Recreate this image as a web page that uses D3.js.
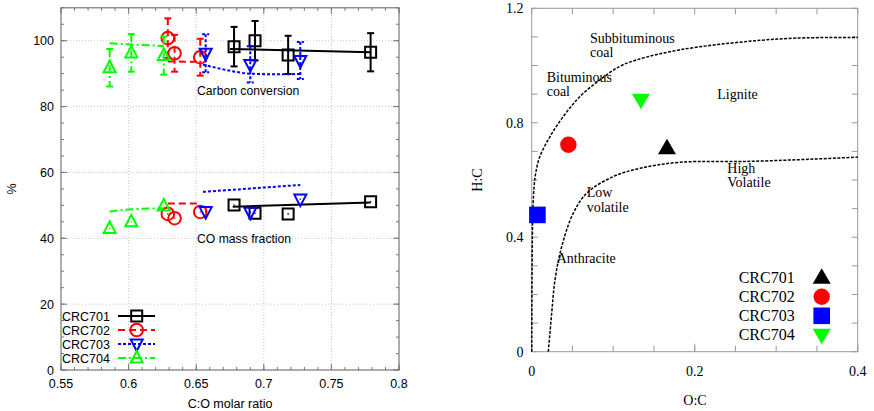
<!DOCTYPE html>
<html><head><meta charset="utf-8">
<script src="https://cdn.jsdelivr.net/npm/d3@7"></script>
<style>body{margin:0;background:#fff}svg{display:block}</style>
</head><body>
<svg id="c" width="874" height="411"></svg>
<script>
// ---------- Left chart data ----------
const seriesNames = ["CRC701","CRC702","CRC703","CRC704"];
const ratio701 = [0.678, 0.6935, 0.718, 0.779];
const cc701 = [98.2, 100.0, 95.7, 96.5];
const ccErr701 = [6.0, 6.0, 5.8, 5.8];
const co701 = [50.1, 47.6, 47.4, 51.1];
const ccFitX701 = [0.675, 0.779], ccFitY701 = [97.5, 96.5];
const coFitX701 = [0.677, 0.779], coFitY701 = [49.6, 50.9];

const ratio702 = [0.629, 0.634, 0.653];
const cc702 = [100.8, 96.2, 95.0];
const ccErr702 = [6.0, 5.6, 5.6];
const co702 = [47.4, 46.1, 48.0];
const ccFitX702 = [0.629, 0.653], ccFitY702 = [93.7, 93.6];
const coFitX702 = [0.629, 0.653], coFitY702 = [50.6, 50.6];

const ratio703 = [0.657, 0.690, 0.727];
const cc703 = [96.2, 92.8, 94.0];
const ccErr703 = [5.8, 5.5, 5.6];
const co703 = [48.1, 47.9, 51.9];
const ccFitX703 = [0.655, 0.67, 0.69, 0.71, 0.727], ccFitY703 = [92.8, 91.3, 90.0, 89.8, 89.9];
const coFitX703 = [0.655, 0.727], coFitY703 = [54.1, 56.2];

const ratio704 = [0.586, 0.602, 0.626];
const cc704 = [91.8, 96.3, 95.5];
const ccErr704 = [5.7, 5.7, 5.8];
const co704 = [43.0, 45.0, 49.8];
const ccFitX704 = [0.586, 0.626], ccFitY704 = [99.2, 98.4];
const coFitX704 = [0.586, 0.602, 0.626], coFitY704 = [48.1, 48.8, 49.1];

const xTicksL = [0.55, 0.6, 0.65, 0.7, 0.75, 0.8];
const yTicksL = [0, 20, 40, 60, 80, 100];

// ---------- Right chart data ----------
const ocRatio = [0.166, 0.045, 0.007, 0.134];
const hcRatio = [0.711, 0.723, 0.478, 0.880];
const boundUpperOC = [0, 0.0005, 0.0015, 0.003, 0.005, 0.010, 0.0225, 0.0388, 0.0593, 0.0838, 0.108, 0.129, 0.182, 0.264, 0.325, 0.4];
const boundUpperHC = [0, 0.3, 0.5, 0.58, 0.625, 0.682, 0.752, 0.822, 0.892, 0.95, 0.997, 1.02, 1.055, 1.084, 1.096, 1.098];
const boundLowerOC = [0.0204, 0.0245, 0.0286, 0.0368, 0.051, 0.0675, 0.1, 0.133, 0.182, 0.264, 0.345, 0.4];
const boundLowerHC = [0, 0.134, 0.251, 0.367, 0.484, 0.554, 0.612, 0.641, 0.662, 0.665, 0.673, 0.68];
const xTicksR = [0, 0.2, 0.4];
const yTicksR = [0, 0.4, 0.8, 1.2];

// ---------- styles ----------
const colors = ["#000000", "#ff0000", "#0000ff", "#00ff00"];
const dashes = [null, "7,4", "3,2", "8,3,2,3"];
const sans = "'Liberation Sans', Arial, sans-serif";
const serif = "'Liberation Serif', 'Times New Roman', serif";

const svg = d3.select("#c");

// ================= LEFT =================
const xL = d3.scaleLinear().domain([0.55, 0.8]).range([61, 399]);
const yL = d3.scaleLinear().domain([0, 110]).range([370, 7.8]);
const gL = svg.append("g");

// grid
gL.selectAll(".gx").data(xTicksL.slice(1, -1)).join("line")
  .attr("x1", d => xL(d)).attr("x2", d => xL(d)).attr("y1", yL(0)).attr("y2", yL(110))
  .attr("stroke", "#c8c8c8").attr("stroke-dasharray", "1,2").attr("stroke-width", 1);
gL.selectAll(".gy").data(yTicksL.slice(1)).join("line")
  .attr("y1", d => yL(d)).attr("y2", d => yL(d)).attr("x1", xL(0.55)).attr("x2", xL(0.8))
  .attr("stroke", "#c8c8c8").attr("stroke-dasharray", "1,2").attr("stroke-width", 1);

// frame
gL.append("rect").attr("x", xL(0.55)).attr("y", yL(110)).attr("width", xL(0.8) - xL(0.55))
  .attr("height", yL(0) - yL(110)).attr("fill", "none").attr("stroke", "#777").attr("stroke-width", 1.2);

// ticks inward
const xMinorL = d3.range(0.55, 0.8001, 0.01);
const yMinorL = d3.range(0, 110.01, 5);
function tickSet(g, scale, vals, len, orient, pos, color) {
  vals.forEach(v => {
    const p = scale(v);
    if (orient === "x") {
      g.append("line").attr("x1", p).attr("x2", p).attr("y1", pos).attr("y2", pos + len)
        .attr("stroke", color).attr("stroke-width", 1);
    } else {
      g.append("line").attr("y1", p).attr("y2", p).attr("x1", pos).attr("x2", pos + len)
        .attr("stroke", color).attr("stroke-width", 1);
    }
  });
}
tickSet(gL, xL, xMinorL, -3, "x", yL(0), "#777");
tickSet(gL, xL, xMinorL, 3, "x", yL(110), "#777");
tickSet(gL, xL, xTicksL, -6, "x", yL(0), "#777");
tickSet(gL, xL, xTicksL, 6, "x", yL(110), "#777");
tickSet(gL, yL, yMinorL, 3, "y", xL(0.55), "#777");
tickSet(gL, yL, yMinorL, -3, "y", xL(0.8), "#777");
tickSet(gL, yL, yTicksL, 6, "y", xL(0.55), "#777");
tickSet(gL, yL, yTicksL, -6, "y", xL(0.8), "#777");

// tick labels
gL.selectAll(".xl").data(xTicksL).join("text")
  .attr("x", d => xL(d)).attr("y", 388).attr("text-anchor", "middle")
  .attr("font-family", sans).attr("font-size", 12.5).text(d => d);
gL.selectAll(".yl").data(yTicksL).join("text")
  .attr("x", 54).attr("y", d => yL(d) + 4.5).attr("text-anchor", "end")
  .attr("font-family", sans).attr("font-size", 12.5).text(d => d);
gL.append("text").attr("x", 230).attr("y", 408).attr("text-anchor", "middle")
  .attr("font-family", sans).attr("font-size", 12.5).text("C:O molar ratio");
gL.append("text").attr("transform", "translate(16,189) rotate(-90)").attr("text-anchor", "middle")
  .attr("font-family", sans).attr("font-size", 12.5).text("%");

gL.append("text").attr("x", 197).attr("y", 94.5).attr("font-family", sans).attr("font-size", 12.2).text("Carbon conversion");
gL.append("text").attr("x", 197).attr("y", 242.5).attr("font-family", sans).attr("font-size", 12.2).text("CO mass fraction");

// marker drawing
function markerPath(kind) {
  if (kind === 0) return "M-5.5,-5.5H5.5V5.5H-5.5Z";
  if (kind === 1) return d3.symbol().type(d3.symbolCircle).size(Math.PI * 6.3 * 6.3)();
  if (kind === 2) return "M-6,-4.5L6,-4.5L0,7Z";
  return "M-6,4.5L6,4.5L0,-7Z";
}
function drawMarker(g, k, x, y) {
  g.append("path").attr("d", markerPath(k)).attr("transform", `translate(${x},${y})`)
    .attr("fill", "none").attr("stroke", colors[k]).attr("stroke-width", 2);
}

const all = [
  {x: ratio701, cc: cc701, err: ccErr701, co: co701, ccfx: ccFitX701, ccfy: ccFitY701, cofx: coFitX701, cofy: coFitY701},
  {x: ratio702, cc: cc702, err: ccErr702, co: co702, ccfx: ccFitX702, ccfy: ccFitY702, cofx: coFitX702, cofy: coFitY702},
  {x: ratio703, cc: cc703, err: ccErr703, co: co703, ccfx: ccFitX703, ccfy: ccFitY703, cofx: coFitX703, cofy: coFitY703},
  {x: ratio704, cc: cc704, err: ccErr704, co: co704, ccfx: ccFitX704, ccfy: ccFitY704, cofx: coFitX704, cofy: coFitY704}
];
const lineL = d3.line().x(d => xL(d[0])).y(d => yL(d[1])).curve(d3.curveMonotoneX);

all.forEach((s, k) => {
  const g = gL.append("g");
  const st = sel => sel.attr("fill", "none").attr("stroke", colors[k]).attr("stroke-width", 2)
    .attr("stroke-dasharray", dashes[k]);
  st(g.append("path").attr("d", lineL(d3.zip(s.ccfx, s.ccfy))));
  st(g.append("path").attr("d", lineL(d3.zip(s.cofx, s.cofy))));
  s.x.forEach((xv, i) => {
    const px = xL(xv), top = yL(s.cc[i] + s.err[i]), bot = yL(s.cc[i] - s.err[i]);
    st(g.append("line").attr("x1", px).attr("x2", px).attr("y1", top).attr("y2", bot));
    st(g.append("line").attr("x1", px - 3.5).attr("x2", px + 3.5).attr("y1", top).attr("y2", top));
    st(g.append("line").attr("x1", px - 3.5).attr("x2", px + 3.5).attr("y1", bot).attr("y2", bot));
  });
  s.x.forEach((xv, i) => {
    drawMarker(g, k, xL(xv), yL(s.cc[i]));
    drawMarker(g, k, xL(xv), yL(s.co[i]));
    g.append("circle").attr("cx", xL(xv)).attr("cy", yL(s.co[i])).attr("r", 0.8).attr("fill", colors[k]);
  });
});

// legend left
seriesNames.forEach((n, k) => {
  const y = 316 + k * 14;
  gL.append("text").attr("x", 62).attr("y", y + 4.5).attr("font-family", sans).attr("font-size", 12.5).text(n);
  gL.append("line").attr("x1", 118).attr("x2", 155).attr("y1", y).attr("y2", y)
    .attr("stroke", colors[k]).attr("stroke-width", 2).attr("stroke-dasharray", dashes[k]);
  drawMarker(gL, k, 136.7, y);
});

// ================= RIGHT =================
const xR = d3.scaleLinear().domain([0, 0.4]).range([531.7, 857.7]);
const yR = d3.scaleLinear().domain([0, 1.2]).range([351.7, 8.3]);
const gR = svg.append("g");

gR.append("rect").attr("x", xR(0)).attr("y", yR(1.2)).attr("width", xR(0.4) - xR(0))
  .attr("height", yR(0) - yR(1.2)).attr("fill", "none").attr("stroke", "#999").attr("stroke-width", 1);

const xMinorR = d3.range(0, 0.4001, 0.05);
const yMinorR = d3.range(0, 1.2001, 0.1);
tickSet(gR, xR, xMinorR, -6, "x", yR(0), "#999");
tickSet(gR, xR, xMinorR, 6, "x", yR(1.2), "#999");
tickSet(gR, xR, xTicksR, -8, "x", yR(0), "#999");
tickSet(gR, yR, yMinorR, 6, "y", xR(0), "#999");
tickSet(gR, yR, yMinorR, -6, "y", xR(0.4), "#999");

gR.selectAll(".xr").data(xTicksR).join("text")
  .attr("x", d => xR(d)).attr("y", 376).attr("text-anchor", "middle")
  .attr("font-family", serif).attr("font-size", 14).text(d => d);
gR.selectAll(".yr").data(yTicksR).join("text")
  .attr("x", 523.5).attr("y", d => yR(d) + 5).attr("text-anchor", "end")
  .attr("font-family", serif).attr("font-size", 14).text(d => d);
gR.append("text").attr("x", 695).attr("y", 405).attr("text-anchor", "middle")
  .attr("font-family", serif).attr("font-size", 14).text("O:C");
gR.append("text").attr("transform", "translate(482,180) rotate(-90)").attr("text-anchor", "middle")
  .attr("font-family", serif).attr("font-size", 14).text("H:C");

const lineR = d3.line().x(d => xR(d[0])).y(d => yR(d[1])).curve(d3.curveCatmullRom.alpha(0.5));
[[boundUpperOC, boundUpperHC], [boundLowerOC, boundLowerHC]].forEach(([a, b]) => {
  gR.append("path").attr("d", lineR(d3.zip(a, b))).attr("fill", "none")
    .attr("stroke", "#000").attr("stroke-width", 1.5).attr("stroke-dasharray", "3,1.5");
});

const regionLabels = [
  ["Subbituminous", 590, 43.3], ["coal", 590, 57.3],
  ["Bituminous", 546.7, 81.7], ["coal", 546.7, 96],
  ["Lignite", 717.3, 99.3],
  ["High", 727.3, 173.3], ["Volatile", 727.3, 187.3],
  ["Low", 586.7, 197.3], ["volatile", 586.7, 211.7],
  ["Anthracite", 556.7, 262.7]
];
regionLabels.forEach(([t, x, y]) => {
  gR.append("text").attr("x", x).attr("y", y).attr("font-family", serif).attr("font-size", 14).text(t);
});

function solidMarker(g, k, x, y) {
  let d;
  if (k === 0) d = "M0,-9.5L9,6L-9,6Z";
  else if (k === 1) d = d3.symbol().type(d3.symbolCircle).size(Math.PI * 8.2 * 8.2)();
  else if (k === 2) d = "M-8.3,-8.3H8.3V8.3H-8.3Z";
  else d = "M0,9.5L9,-6L-9,-6Z";
  g.append("path").attr("d", d).attr("transform", `translate(${x},${y})`).attr("fill", colors[k]);
}
ocRatio.forEach((v, k) => solidMarker(gR, k, xR(v), yR(hcRatio[k])));

seriesNames.forEach((n, k) => {
  const by = 283.3 + k * 19;
  gR.append("text").attr("x", 738.7).attr("y", by).attr("font-family", serif).attr("font-size", 16).text(n);
  solidMarker(gR, k, 821.7, by - 5.5);
});
</script>
</body></html>
